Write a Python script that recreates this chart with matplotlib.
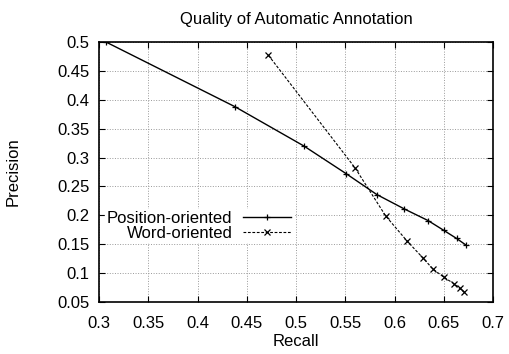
import matplotlib.pyplot as plt
import numpy as np

plt.rcParams['font.family'] = ['Liberation Sans', 'DejaVu Sans']

pos_recall = [0.307, 0.438, 0.508, 0.551, 0.582, 0.610, 0.634, 0.650, 0.663, 0.673]
pos_prec = [0.500, 0.388, 0.320, 0.272, 0.236, 0.211, 0.191, 0.174, 0.160, 0.148]

word_recall = [0.472, 0.560, 0.591, 0.613, 0.629, 0.639, 0.650, 0.660, 0.666, 0.671]
word_prec = [0.477, 0.282, 0.199, 0.155, 0.126, 0.107, 0.093, 0.082, 0.074, 0.067]

fig = plt.figure(figsize=(5.09, 3.54), dpi=100)
ax = fig.add_axes([0.1945, 0.1469, 0.7741, 0.7345])

ax.plot(pos_recall, pos_prec, '-', color='black', lw=1, marker='+', ms=4, mew=0.9,
        label='Position-oriented')
ax.plot(word_recall, word_prec, '--', color='black', lw=0.8, dashes=(2.5, 1.5),
        marker='x', ms=4, mew=0.9, label='Word-oriented')

ax.set_xlim(0.3, 0.7)
ax.set_ylim(0.05, 0.5)
ax.set_xticks(np.arange(0.3, 0.701, 0.05))
ax.set_yticks(np.arange(0.05, 0.501, 0.05))
ax.set_xticklabels(['0.3', '0.35', '0.4', '0.45', '0.5', '0.55', '0.6', '0.65', '0.7'])
ax.set_yticklabels(['0.05', '0.1', '0.15', '0.2', '0.25', '0.3', '0.35', '0.4', '0.45', '0.5'])
ax.tick_params(direction='in', top=True, right=True, labelsize=12, length=4)
ax.tick_params(axis='x', pad=10)
ax.tick_params(axis='y', pad=7)
ax.grid(True, color='#999999', ls=':', lw=0.7)
for s in ax.spines.values():
    s.set_linewidth(1.2)

ax.set_title('Quality of Automatic Annotation', fontsize=12, pad=13)
ax.set_xlabel('Recall', fontsize=12, labelpad=2)
ax.set_ylabel('Precision', fontsize=12, labelpad=26)

leg = ax.legend(loc='center left', bbox_to_anchor=(-0.005, 0.293), markerfirst=False,
                fontsize=12, handlelength=2.9, handletextpad=0.6, labelspacing=0.0,
                frameon=True, fancybox=False, edgecolor='white', framealpha=1,
                borderpad=0.1)

fig.savefig('out.png', dpi=100)
